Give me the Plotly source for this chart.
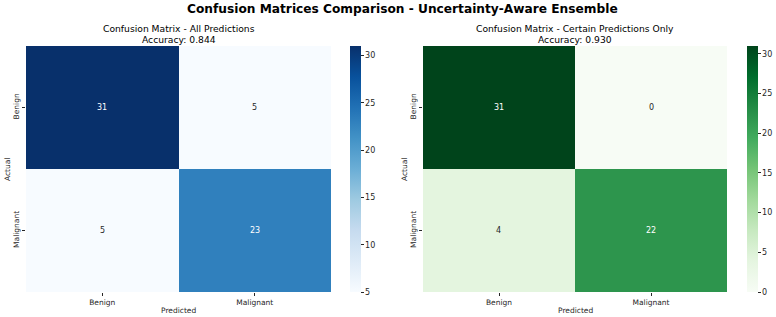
import plotly.graph_objects as go

W, H = 776, 317

classes = ["Benign", "Malignant"]
cm_all = [[31, 5], [5, 23]]
cm_certain = [[31, 0], [4, 22]]
acc_all = 0.844
acc_certain = 0.930

main_title = "Confusion Matrices Comparison - Uncertainty-Aware Ensemble"
sub_titles = ["Confusion Matrix - All Predictions", "Confusion Matrix - Certain Predictions Only"]

FONT = "DejaVu Sans"
TXT = "#262626"

def px_x(p):
    return p / W

def px_y(p):
    return 1 - p / H

top, bottom = 46, 292
panels = [
    dict(x0=26, x1=331, cb=350, z=cm_all, zmin=5, zmax=31, cs="Blues",
         ticks=[5, 10, 15, 20, 25, 30], title=sub_titles[0], acc=acc_all),
    dict(x0=423, x1=727, cb=747, z=cm_certain, zmin=0, zmax=31, cs="Greens",
         ticks=[0, 5, 10, 15, 20, 25, 30], title=sub_titles[1], acc=acc_certain),
]

fig = go.Figure()
annotations = []
for i, p in enumerate(panels):
    suf = "" if i == 0 else str(i + 1)
    fig.add_trace(go.Heatmap(
        z=p["z"], x=classes, y=classes, colorscale=p["cs"],
        zmin=p["zmin"], zmax=p["zmax"],
        xaxis="x" + suf, yaxis="y" + suf,
        hoverinfo="skip",
        colorbar=dict(
            x=px_x(p["cb"]), xanchor="left", xref="paper",
            y=px_y((top + bottom) / 2), yanchor="middle", yref="paper",
            len=(bottom - top) / H, lenmode="fraction",
            thickness=11, outlinewidth=0, xpad=0, ypad=0,
            tickvals=p["ticks"], ticks="outside", ticklen=3,
            tickcolor=TXT, tickfont=dict(size=8, color=TXT, family=FONT),
        ),
    ))
    dom_x = [px_x(p["x0"]), px_x(p["x1"])]
    dom_y = [px_y(bottom), px_y(top)]
    fig.update_layout(**{
        "xaxis" + suf: dict(domain=dom_x, anchor="y" + suf, ticks="outside", ticklen=3,
                            tickcolor=TXT, tickfont=dict(size=7.5, color=TXT, family=FONT),
                            showgrid=False, zeroline=False, showline=False, automargin=False),
        "yaxis" + suf: dict(domain=dom_y, anchor="x" + suf, autorange="reversed", ticks="outside",
                            ticklen=3, tickcolor=TXT, tickangle=-90,
                            tickfont=dict(size=7.5, color=TXT, family=FONT),
                            showgrid=False, zeroline=False, showline=False, automargin=False),
    })
    for r, yl in enumerate(classes):
        for c, xl in enumerate(classes):
            v = p["z"][r][c]
            frac = (v - p["zmin"]) / (p["zmax"] - p["zmin"])
            annotations.append(dict(
                x=xl, y=yl, xref="x" + suf, yref="y" + suf, text=str(v), showarrow=False,
                font=dict(size=8, family=FONT, color="white" if frac > 0.5 else TXT),
            ))
    cx = (p["x0"] + p["x1"]) / 2
    annotations.append(dict(
        x=px_x(cx), y=px_y(28), xref="paper", yref="paper", xanchor="center", yanchor="middle",
        text=p["title"], showarrow=False,
        font=dict(size=9.2, family=FONT, color="black"),
    ))
    annotations.append(dict(
        x=px_x(cx), y=px_y(39), xref="paper", yref="paper", xanchor="center", yanchor="middle",
        text="Accuracy: %.3f" % p["acc"], showarrow=False,
        font=dict(size=9.2, family=FONT, color="black"),
    ))
    annotations.append(dict(
        x=px_x(cx), y=px_y(310), xref="paper", yref="paper", xanchor="center", yanchor="middle",
        text="Predicted", showarrow=False, font=dict(size=7.5, family=FONT, color=TXT),
    ))
    annotations.append(dict(
        x=px_x(p["x0"] - 19), y=px_y((top + bottom) / 2), xref="paper", yref="paper",
        xanchor="center", yanchor="middle", textangle=-90,
        text="Actual", showarrow=False, font=dict(size=7.5, family=FONT, color=TXT),
    ))

annotations.append(dict(
    x=px_x(402), y=px_y(9), xref="paper", yref="paper", xanchor="center", yanchor="middle",
    text="<b>" + main_title + "</b>", showarrow=False,
    font=dict(size=12.2, family=FONT, color="black"),
))

fig.update_layout(
    width=W, height=H, margin=dict(l=0, r=0, t=0, b=0, autoexpand=False),
    paper_bgcolor="white", plot_bgcolor="white",
    annotations=annotations, showlegend=False,
    font=dict(family=FONT),
)

fig.write_html("out.html")
